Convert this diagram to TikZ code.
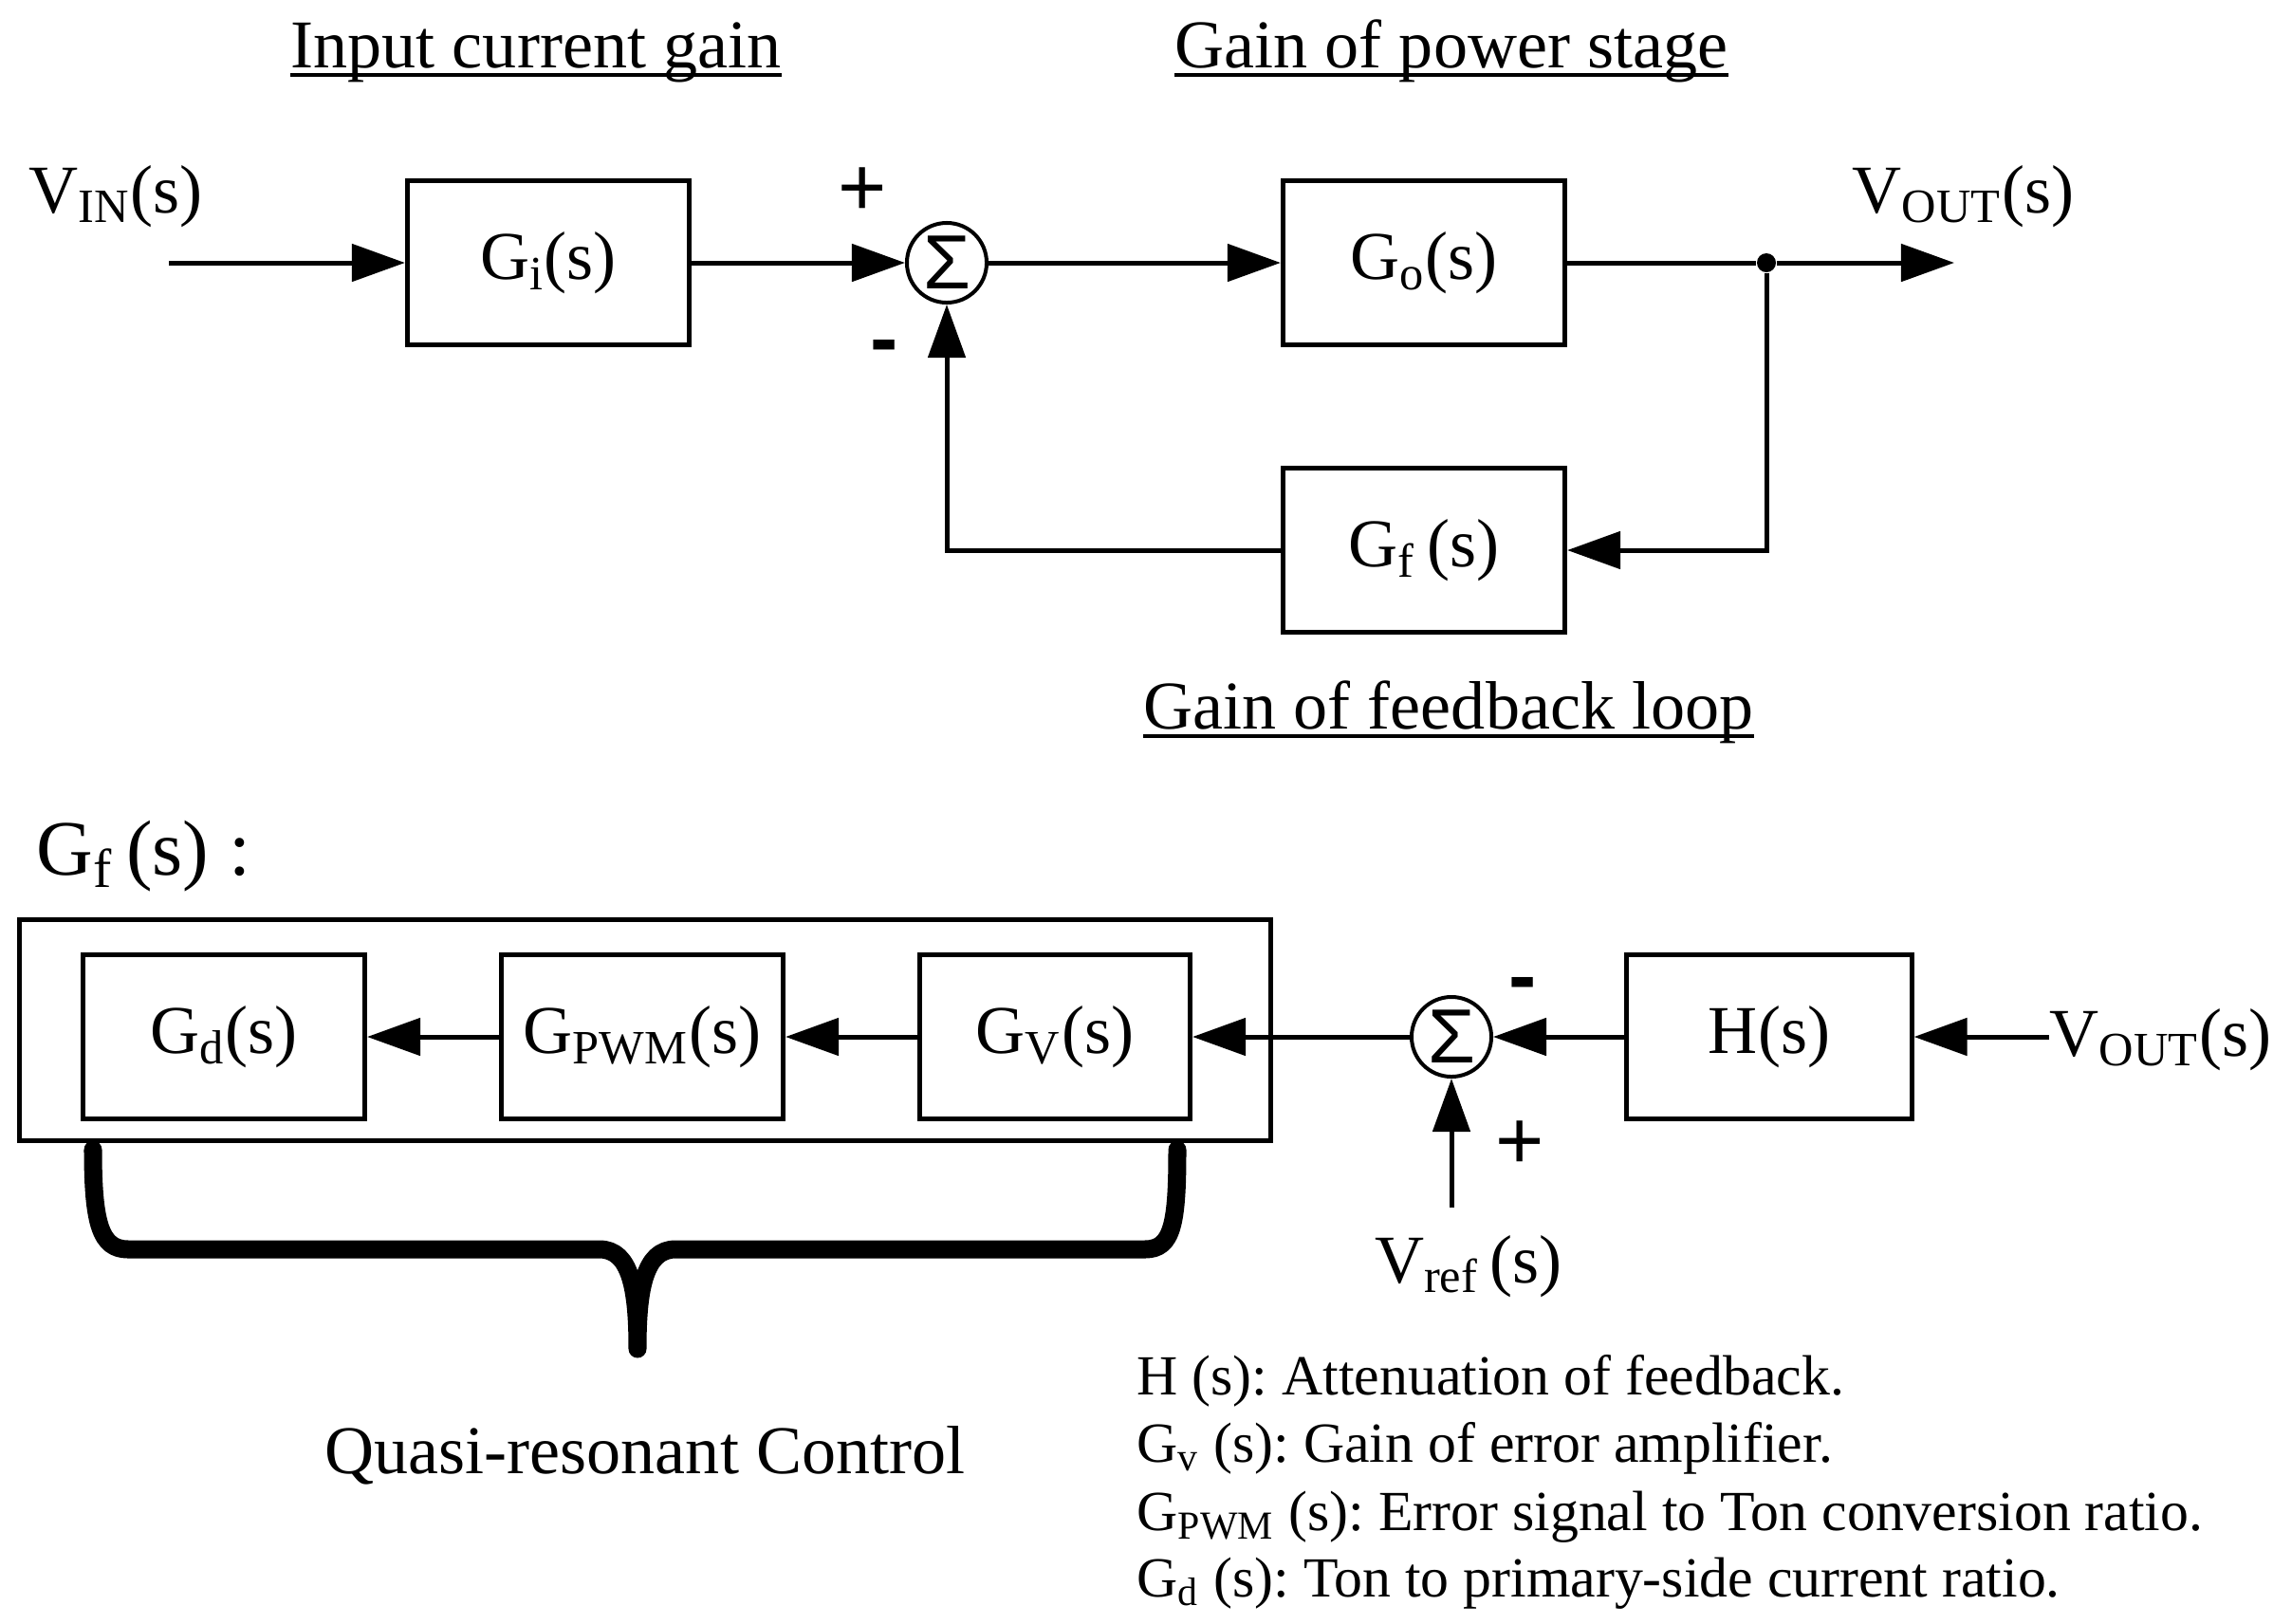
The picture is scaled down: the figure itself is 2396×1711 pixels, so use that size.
\documentclass[tikz,border=0pt]{standalone}
\usepackage{fontspec}
\setmainfont{Liberation Serif}
\newfontfamily\signfont{Liberation Sans}
\usetikzlibrary{arrows.meta}
\frenchspacing
\newcommand{\bigtxt}{\fontsize{20.5}{24}\selectfont}
\newcommand{\legtxt}{\fontsize{17}{20}\selectfont}
\tikzset{blk/.style = {draw, line width=0.05cm, minimum width=2.97cm, minimum height=1.72cm, inner sep=0, font=\bigtxt}}
\tikzset{sum/.style = {draw, circle, line width=0.04cm, minimum size=0.84cm, inner sep=0, font=\signfont\fontsize{23}{24}\selectfont}}
\tikzset{sig/.style = {line width=0.05cm, -{Triangle[length=0.56cm,width=0.39cm]}}}
\tikzset{dot/.style = {fill, circle, inner sep = 0, minimum size = 0.2cm}}
\tikzset{txt/.style = {inner sep=0, font=\bigtxt}}
\tikzset{leg/.style = {anchor=base west, inner sep=0, font=\legtxt}}
\tikzset{pm/.style = {inner sep=0, font=\signfont\fontsize{25}{28}\selectfont}}
\tikzset{uline/.style = {line width=0.04cm}}

\begin{document}
\begin{tikzpicture}[x=0.01cm, y=-0.01cm]
    \useasboundingbox (0,0) rectangle (2396,1711);
    \node (tin) [txt, anchor=base] at (565,71) {Input current gain};
    \node (tpow) [txt, anchor=base] at (1530,71) {Gain of power stage};
    \node (tfb) [txt, anchor=base] at (1527,768) {Gain of feedback loop};
    \draw [uline] ([yshift=-0.08cm]tin.base west) -- ([yshift=-0.08cm]tin.base east);
    \draw [uline] ([yshift=-0.08cm]tpow.base west) -- ([yshift=-0.08cm]tpow.base east);
    \draw [uline] ([yshift=-0.08cm]tfb.base west) -- ([yshift=-0.08cm]tfb.base east);

    \node (vin) [txt, anchor=base west] at (30,224) {V\textsubscript{IN}(s)};
    \node (vout) [txt, anchor=base west] at (1952,224) {V\textsubscript{OUT}(s)};
    \node (gi) [blk] at (578,277) {G\textsubscript{i}(s)};
    \node (s1) [sum] at (998,277) {Σ};
    \node (go) [blk] at (1501,277) {G\textsubscript{o}(s)};
    \node (gf) [blk] at (1501,580) {G\textsubscript{f}\,(s)};
    \node (jn) [dot] at (1862,277) {};
    \node (p1) [pm] at (909,202) {+};
    \node (m1) [pm] at (932,372) {\textbf{-}};
    \coordinate (in) at (178,277);
    \coordinate (out) at (2060,277);
    \draw [sig] (in) -- (gi);
    \draw [sig] (gi) -- (s1);
    \draw [sig] (s1) -- (go);
    \draw [line width=0.05cm] (go) -- (jn);
    \draw [sig] (jn) -- (out);
    \draw [sig] (jn) |- (gf);
    \draw [sig] (gf) -| (s1);

    \node (gfl) [txt, anchor=base west, font=\fontsize{23.5}{26}\selectfont] at (38,922) {G\textsubscript{f}\,(s) :};
    \node (frame) [draw, line width=0.05cm, minimum width=13.19cm, minimum height=2.33cm] at (680,1086) {};
    \node (gd) [blk] at (236,1093) {G\textsubscript{d}(s)};
    \node (gpwm) [blk] at (677,1093) {G\textsubscript{PWM}(s)};
    \node (gv) [blk, minimum width=2.85cm] at (1112,1093) {G\textsubscript{V}(s)};
    \node (s2) [sum] at (1530,1093) {Σ};
    \node (h) [blk, minimum width=3cm] at (1865,1093) {H(s)};
    \node (vout2) [txt, anchor=base west] at (2160,1113) {V\textsubscript{OUT}(s)};
    \node (vref) [txt, anchor=base] at (1548,1352) {V\textsubscript{ref}\,(s)};
    \node (m2) [pm] at (1605,1044) {\textbf{-}};
    \node (p2) [pm] at (1602,1207) {+};
    \coordinate (ref) at (1530,1273);
    \draw [sig] (vout2.west |- h) -- (h);
    \draw [sig] (h) -- (s2);
    \draw [sig] (s2) -- (gv);
    \draw [sig] (gv) -- (gpwm);
    \draw [sig] (gpwm) -- (gd);
    \draw [sig] (ref) -- (s2);

    \draw [line width=0.19cm, line cap=round, line join=round] (98,1212) .. controls (98,1290) and (106,1317) .. (135,1317) -- (632,1317) .. controls (665,1317) and (672,1360) .. (672,1422) .. controls (672,1360) and (679,1317) .. (712,1317) -- (1207,1317) .. controls (1236,1317) and (1241,1290) .. (1241,1212);
    \node (qrc) [txt, anchor=base] at (680,1553) {Quasi-resonant Control};

    \node (l1) [leg] at (1198,1470) {H (s): Attenuation of feedback.};
    \node (l2) [leg] at (1198,1541) {G\textsubscript{v} (s): Gain of error amplifier.};
    \node (l3) [leg] at (1198,1613) {G\textsubscript{PWM} (s): Error signal to Ton conversion ratio.};
    \node (l4) [leg] at (1198,1683) {G\textsubscript{d} (s): Ton to primary-side current ratio.};
\end{tikzpicture}
\end{document}
